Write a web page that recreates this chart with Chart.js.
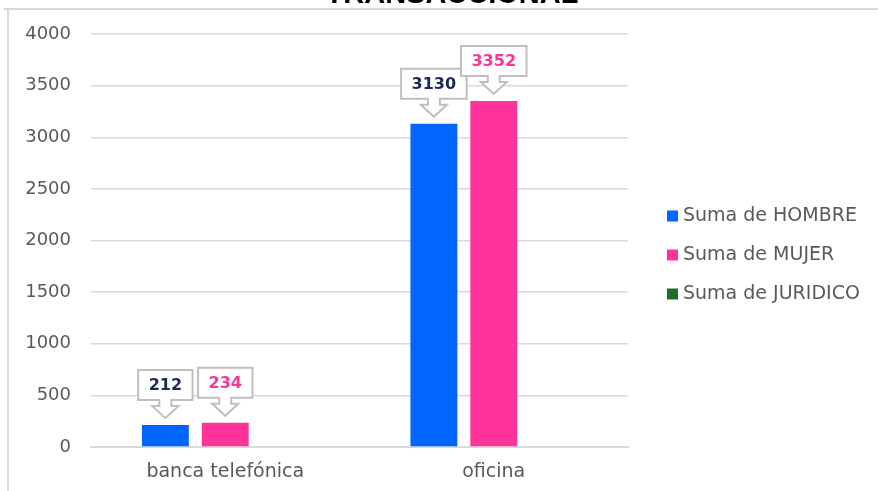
<!DOCTYPE html>
<html>
<head>
<meta charset="utf-8">
<script src="https://cdn.jsdelivr.net/npm/chart.js@4.4.1/dist/chart.umd.min.js"></script>
<style>
  html, body { margin: 0; padding: 0; background: #ffffff; }
  #wrap { width: 878px; height: 491px; position: relative; }
</style>
</head>
<body>
<div id="wrap"><canvas id="barChart" width="878" height="491"></canvas></div>
<script>
// --- datos del gráfico ---
const titulo = 'TRANSACCIONAL';
const categorias = ['banca telefónica', 'oficina'];
const hombre = [212, 3130];
const mujer = [234, 3352];
const juridico = [0, 0];
const ticksY = [0, 500, 1000, 1500, 2000, 2500, 3000, 3500, 4000];

const FUENTE = "'DejaVu Sans', sans-serif";

// marco y título recortado
const marcoPlugin = {
    id: 'marco',
    beforeDraw(chart) {
        const ctx = chart.ctx;
        ctx.save();
        ctx.strokeStyle = '#d9d9d9';
        ctx.lineWidth = 2;
        ctx.beginPath();
        ctx.moveTo(4, 9);
        ctx.lineTo(878, 9);
        ctx.moveTo(8, 9);
        ctx.lineTo(8, 491);
        ctx.stroke();
        ctx.fillStyle = '#000000';
        ctx.font = "bold 29px 'Liberation Sans', Arial, sans-serif";
        ctx.textAlign = 'center';
        ctx.textBaseline = 'alphabetic';
        ctx.fillText(titulo, 452, 3);
        ctx.restore();
    }
};

// leyenda a la derecha (dibujada a mano para fijar su sitio)
const leyendaPlugin = {
    id: 'leyenda',
    afterDraw(chart) {
        const ctx = chart.ctx;
        const area = chart.chartArea;
        const x = area.right + 39;
        const paso = 39;
        const n = chart.data.datasets.length;
        const y0 = (area.top + area.bottom) / 2 + 14 - paso * (n - 1) / 2;
        ctx.save();
        ctx.font = '19px ' + FUENTE;
        ctx.textAlign = 'left';
        ctx.textBaseline = 'middle';
        chart.data.datasets.forEach((ds, i) => {
            const y = y0 + i * paso;
            ctx.fillStyle = ds.backgroundColor;
            ctx.fillRect(x, y - 5, 11, 11);
            ctx.fillStyle = '#595959';
            ctx.fillText(ds.label, x + 16, y + 1);
        });
        ctx.restore();
    }
};

// etiquetas tipo "llamada" con flecha hacia la barra
const llamadaPlugin = {
    id: 'llamada',
    afterDatasetsDraw(chart) {
        const ctx = chart.ctx;
        ctx.save();
        ctx.font = 'bold 16px ' + FUENTE;
        chart.data.datasets.forEach((ds, i) => {
            if (!ds.etiqueta) return;
            const meta = chart.getDatasetMeta(i);
            meta.data.forEach((bar, j) => {
                const txt = String(ds.data[j]);
                const cx = bar.x;
                const tip = bar.y - 7;
                const y1 = tip - 12;     // base de la punta
                const by2 = y1 - 6;      // parte baja del cuadro
                const h = 30;
                const by = by2 - h;
                const w = ctx.measureText(txt).width + 21;
                const bx = cx - w / 2;
                const s = 6, a = 13;

                ctx.beginPath();
                ctx.moveTo(bx, by);
                ctx.lineTo(bx + w, by);
                ctx.lineTo(bx + w, by2);
                ctx.lineTo(cx + s, by2);
                ctx.lineTo(cx + s, y1);
                ctx.lineTo(cx + a, y1);
                ctx.lineTo(cx, tip);
                ctx.lineTo(cx - a, y1);
                ctx.lineTo(cx - s, y1);
                ctx.lineTo(cx - s, by2);
                ctx.lineTo(bx, by2);
                ctx.closePath();
                ctx.fillStyle = '#ffffff';
                ctx.fill();
                ctx.strokeStyle = '#bfbfbf';
                ctx.lineWidth = 2;
                ctx.stroke();

                ctx.fillStyle = ds.etiqueta;
                ctx.textAlign = 'center';
                ctx.textBaseline = 'middle';
                ctx.fillText(txt, cx, by + h / 2 + 1);
            });
        });
        ctx.restore();
    }
};

const ctx = document.getElementById('barChart').getContext('2d');
new Chart(ctx, {
    type: 'bar',
    data: {
        labels: categorias,
        datasets: [
            { label: 'Suma de HOMBRE', data: hombre, backgroundColor: '#0066ff', etiqueta: '#1b2a5a' },
            { label: 'Suma de MUJER', data: mujer, backgroundColor: '#ff3399', etiqueta: '#ff3399' },
            { label: 'Suma de JURIDICO', data: juridico, backgroundColor: '#1e6b2a' }
        ]
    },
    options: {
        responsive: false,
        animation: false,
        categoryPercentage: 0.669,
        barPercentage: 0.783,
        layout: { padding: { top: 34, right: 250, bottom: 0, left: 0 } },
        scales: {
            x: {
                grid: { display: false, drawTicks: false },
                border: { color: '#d9d9d9', width: 2 },
                ticks: { color: '#595959', font: { family: FUENTE, size: 19 }, padding: 14 },
                afterFit(scale) { scale.height = 44; }
            },
            y: {
                min: 0,
                max: 4000,
                afterBuildTicks(scale) { scale.ticks = ticksY.map(v => ({ value: v })); },
                grid: { color: '#d9d9d9', lineWidth: 1.5, drawTicks: false },
                border: { display: false },
                ticks: {
                    color: '#595959',
                    font: { family: FUENTE, size: 18 },
                    padding: 20,
                    callback: v => String(v)
                },
                afterFit(scale) { scale.width = 91; }
            }
        },
        plugins: {
            legend: { display: false },
            tooltip: { enabled: false }
        }
    },
    plugins: [marcoPlugin, llamadaPlugin, leyendaPlugin]
});
</script>
</body>
</html>
